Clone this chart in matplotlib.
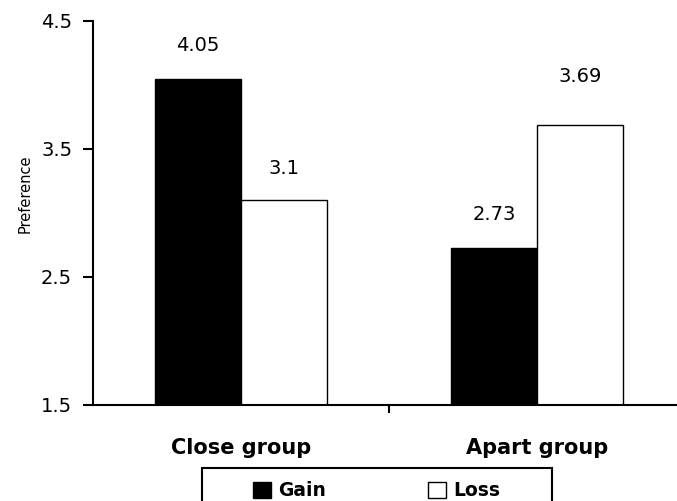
import matplotlib
matplotlib.use("Agg")
import matplotlib.pyplot as plt
from matplotlib.patches import Rectangle
import numpy as np

categories = ["Close group", "Apart group"]
gain = [4.05, 2.73]
loss = [3.1, 3.69]
gain_labels = ["4.05", "2.73"]
loss_labels = ["3.1", "3.69"]
yticks = [1.5, 2.5, 3.5, 4.5]
series_names = ["Gain", "Loss"]

plt.rcParams['font.family'] = ['DejaVu Sans']

W, H = 677, 501
fig = plt.figure(figsize=(W / 100, H / 100), dpi=100)
ax = fig.add_axes([93 / W, 1 - 405 / H, 592 / W, (405 - 21) / H])

x = np.arange(len(categories))
bw = 0.29
b1 = ax.bar(x - bw, gain, width=bw, align='edge', color='black', edgecolor='black', linewidth=1.0)
b2 = ax.bar(x, loss, width=bw, align='edge', color='white', edgecolor='black', linewidth=1.0)

gain_off = [24, 24]
loss_off = [23, 35]
for xi, v, t, o in zip(x - bw / 2, gain, gain_labels, gain_off):
    ax.annotate(t, (xi, v), xytext=(0, o), textcoords='offset points',
                ha='center', va='center', fontsize=14)
for xi, v, t, o in zip(x + bw / 2, loss, loss_labels, loss_off):
    ax.annotate(t, (xi, v), xytext=(0, o), textcoords='offset points',
                ha='center', va='center', fontsize=14)

ax.set_xlim(-0.5, 1.5)
ax.set_ylim(1.5, 4.5)
ax.set_yticks(yticks)
ax.set_yticklabels([str(t) for t in yticks], fontsize=14)
ax.tick_params(axis='y', direction='out', length=7, width=1.5, pad=8)

ax.set_xticks(x)
ax.set_xticklabels(categories, fontsize=15, fontweight='bold')
ax.set_xticks([0.5, 1.5], minor=True)
ax.tick_params(axis='x', which='major', length=0, pad=24)
ax.tick_params(axis='x', which='minor', direction='out', length=6, width=1.5)

for s in ['top', 'right']:
    ax.spines[s].set_visible(False)
for s in ['left', 'bottom']:
    ax.spines[s].set_linewidth(1.5)

ax.set_ylabel('Preference', fontsize=10.5)
ax.yaxis.set_label_coords(-0.115, 0.549)
ax.yaxis.label.set_va('center')

leg = ax.legend([b1, b2], series_names, loc='center left',
                bbox_to_anchor=(253 / W, 1 - 491 / H), bbox_transform=fig.transFigure,
                ncol=2, frameon=False, borderpad=0, borderaxespad=0,
                handlelength=0.95, handleheight=0.95, handletextpad=0.4,
                columnspacing=5.45, prop={'weight': 'bold', 'size': 13.5})

fig.add_artist(Rectangle((202 / W, -0.05), 350 / W, 0.05 + (1 - 468 / H),
                         transform=fig.transFigure, fill=False,
                         edgecolor='black', linewidth=1.5))

fig.savefig("out.png", dpi=100)
